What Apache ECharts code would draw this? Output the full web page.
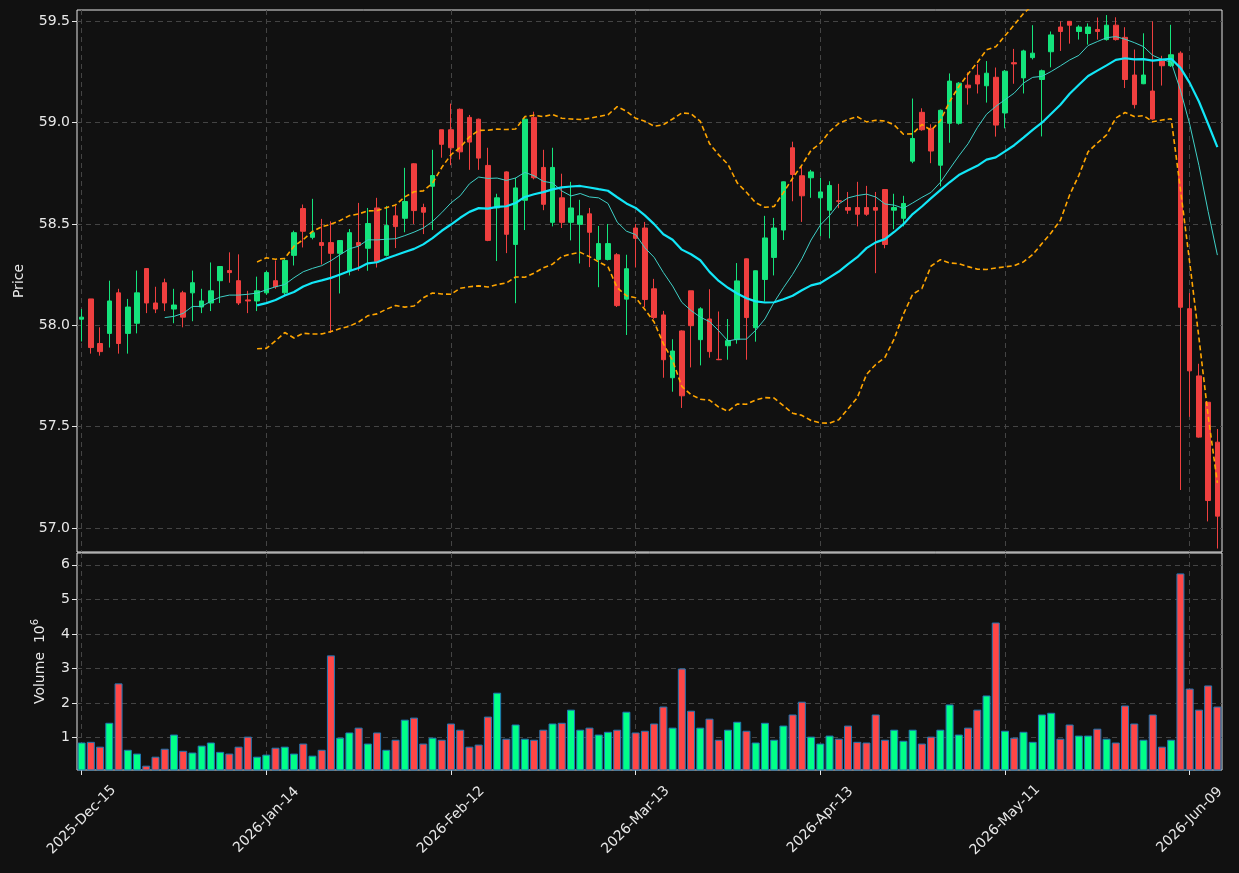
<!DOCTYPE html>
<html>
<head>
<meta charset="utf-8">
<title>Price / Volume</title>
<script src="https://cdn.jsdelivr.net/npm/echarts@6/dist/echarts.min.js"></script>
<style>
  html, body { margin: 0; padding: 0; background: #111111; }
  #chart { width: 1239px; height: 873px; }
</style>
</head>
<body>
<div id="chart"></div>
<script>
// trading days shown on the x axis
const dates = [
  '2025-Dec-15', '2025-Dec-16', '2025-Dec-17', '2025-Dec-18', '2025-Dec-19',
  '2025-Dec-22', '2025-Dec-23', '2025-Dec-24', '2025-Dec-26',
  '2025-Dec-29', '2025-Dec-30', '2025-Dec-31',
  '2026-Jan-02', '2026-Jan-05', '2026-Jan-06', '2026-Jan-07', '2026-Jan-08', '2026-Jan-09',
  '2026-Jan-12', '2026-Jan-13', '2026-Jan-14', '2026-Jan-15', '2026-Jan-16',
  '2026-Jan-20', '2026-Jan-21', '2026-Jan-22', '2026-Jan-23',
  '2026-Jan-26', '2026-Jan-27', '2026-Jan-28', '2026-Jan-29', '2026-Jan-30',
  '2026-Feb-02', '2026-Feb-03', '2026-Feb-04', '2026-Feb-05', '2026-Feb-06',
  '2026-Feb-09', '2026-Feb-10', '2026-Feb-11', '2026-Feb-12', '2026-Feb-13',
  '2026-Feb-17', '2026-Feb-18', '2026-Feb-19', '2026-Feb-20',
  '2026-Feb-23', '2026-Feb-24', '2026-Feb-25', '2026-Feb-26', '2026-Feb-27',
  '2026-Mar-02', '2026-Mar-03', '2026-Mar-04', '2026-Mar-05', '2026-Mar-06',
  '2026-Mar-09', '2026-Mar-10', '2026-Mar-11', '2026-Mar-12', '2026-Mar-13',
  '2026-Mar-16', '2026-Mar-17', '2026-Mar-18', '2026-Mar-19', '2026-Mar-20',
  '2026-Mar-23', '2026-Mar-24', '2026-Mar-25', '2026-Mar-26', '2026-Mar-27',
  '2026-Mar-30', '2026-Mar-31', '2026-Apr-01', '2026-Apr-02',
  '2026-Apr-06', '2026-Apr-07', '2026-Apr-08', '2026-Apr-09', '2026-Apr-10',
  '2026-Apr-13', '2026-Apr-14', '2026-Apr-15', '2026-Apr-16', '2026-Apr-17',
  '2026-Apr-20', '2026-Apr-21', '2026-Apr-22', '2026-Apr-23', '2026-Apr-24',
  '2026-Apr-27', '2026-Apr-28', '2026-Apr-29', '2026-Apr-30', '2026-May-01',
  '2026-May-04', '2026-May-05', '2026-May-06', '2026-May-07', '2026-May-08',
  '2026-May-11', '2026-May-12', '2026-May-13', '2026-May-14', '2026-May-15',
  '2026-May-18', '2026-May-19', '2026-May-20', '2026-May-21', '2026-May-22',
  '2026-May-26', '2026-May-27', '2026-May-28', '2026-May-29',
  '2026-Jun-01', '2026-Jun-02', '2026-Jun-03', '2026-Jun-04', '2026-Jun-05',
  '2026-Jun-08', '2026-Jun-09', '2026-Jun-10', '2026-Jun-11', '2026-Jun-12'
];

const opens = [
  58.03, 58.13, 57.91, 57.96, 58.16, 57.96, 58.01, 58.28, 58.11, 58.21,
  58.08, 58.16, 58.16, 58.09, 58.11, 58.22, 58.27, 58.22, 58.125, 58.12,
  58.16, 58.22, 58.16, 58.345, 58.576, 58.434, 58.408, 58.408, 58.355, 58.269,
  58.408, 58.38, 58.579, 58.345, 58.54, 58.528, 58.797, 58.581, 58.686, 58.965,
  58.965, 59.066, 59.026, 59.017, 58.789, 58.579, 58.757, 58.399, 58.617, 59.026,
  58.779, 58.508, 58.629, 58.508, 58.498, 58.55, 58.325, 58.325, 58.348, 58.129,
  58.48, 58.48, 58.18, 58.051, 57.741, 57.972, 58.17, 57.929, 58.031, 57.832,
  57.899, 57.929, 58.328, 57.988, 58.226, 58.335, 58.47, 58.876, 58.738, 58.728,
  58.629, 58.568, 58.614, 58.581, 58.581, 58.581, 58.581, 58.67, 58.568, 58.528,
  58.81, 59.051, 58.972, 58.79, 58.997, 58.997, 59.185, 59.234, 59.182, 59.224,
  59.048, 59.296, 59.221, 59.321, 59.213, 59.35, 59.472, 59.50, 59.45, 59.44,
  59.46, 59.41, 59.481, 59.421, 59.235, 59.192, 59.156, 59.304, 59.281, 59.343,
  58.082, 57.75, 57.62, 57.423
];
const highs = [
  58.08, 58.13, 57.99, 58.22, 58.18, 58.13, 58.27, 58.28, 58.19, 58.23,
  58.18, 58.17, 58.27, 58.18, 58.31, 58.29, 58.36, 58.35, 58.17, 58.24,
  58.27, 58.32, 58.33, 58.467, 58.596, 58.624, 58.525, 58.513, 58.42, 58.475,
  58.604, 58.579, 58.629, 58.589, 58.589, 58.777, 58.80, 58.60, 58.866, 58.965,
  59.094, 59.07, 59.038, 59.02, 58.876, 58.649, 58.76, 58.728, 59.02, 59.054,
  58.866, 58.876, 58.748, 58.708, 58.619, 58.579, 58.49, 58.50, 58.356, 58.348,
  58.50, 58.51, 58.229, 58.071, 57.931, 57.975, 58.17, 58.089, 58.178, 58.068,
  58.031, 58.307, 58.33, 58.27, 58.54, 58.53, 58.71, 58.906, 58.787, 58.767,
  58.728, 58.711, 58.698, 58.658, 58.708, 58.688, 58.658, 58.67, 58.649, 58.639,
  59.119, 59.071, 58.992, 59.065, 59.243, 59.20, 59.248, 59.289, 59.304, 59.272,
  59.26, 59.364, 59.36, 59.481, 59.262, 59.45, 59.50, 59.50, 59.481, 59.49,
  59.519, 59.531, 59.52, 59.471, 59.361, 59.441, 59.50, 59.33, 59.483, 59.352,
  58.159, 57.81, 57.62, 57.488
];
const lows = [
  57.92, 57.86, 57.85, 57.89, 57.86, 57.86, 57.96, 58.06, 58.06, 58.07,
  58.01, 57.99, 58.02, 58.06, 58.07, 58.11, 58.21, 58.10, 58.06, 58.07,
  58.15, 58.18, 58.15, 58.295, 58.384, 58.424, 58.30, 57.962, 58.157, 58.246,
  58.269, 58.269, 58.285, 58.34, 58.381, 58.459, 58.50, 58.45, 58.47, 58.827,
  58.79, 58.818, 58.767, 58.767, 58.415, 58.317, 58.356, 58.109, 58.47, 58.72,
  58.568, 58.488, 58.48, 58.419, 58.305, 58.287, 58.188, 58.32, 58.09, 57.952,
  58.285, 58.089, 58.03, 57.741, 57.672, 57.592, 57.792, 57.802, 57.84, 57.828,
  57.83, 57.909, 57.83, 57.919, 58.117, 58.246, 58.421, 58.612, 58.51, 58.629,
  58.44, 58.429, 58.578, 58.55, 58.488, 58.54, 58.257, 58.38, 58.474, 58.488,
  58.80, 58.96, 58.80, 58.686, 58.901, 58.99, 59.089, 59.144, 59.099, 58.931,
  58.972, 59.192, 59.144, 59.312, 58.932, 59.273, 59.354, 59.39, 59.41, 59.385,
  59.41, 59.405, 59.405, 59.171, 59.07, 59.19, 59.015, 59.183, 59.275, 57.187,
  57.548, 57.445, 57.032, 56.898
];
const closes = [
  58.04, 57.89, 57.87, 58.12, 57.91, 58.09, 58.16, 58.11, 58.08, 58.11,
  58.10, 58.04, 58.21, 58.12, 58.17, 58.29, 58.26, 58.11, 58.12, 58.17,
  58.26, 58.19, 58.32, 58.457, 58.464, 58.457, 58.394, 58.355, 58.418, 58.457,
  58.394, 58.502, 58.315, 58.492, 58.487, 58.611, 58.566, 58.558, 58.739, 58.893,
  58.876, 58.856, 58.904, 58.825, 58.419, 58.629, 58.449, 58.678, 59.017, 58.728,
  58.597, 58.779, 58.508, 58.579, 58.54, 58.459, 58.403, 58.403, 58.097, 58.279,
  58.429, 58.127, 58.038, 57.83, 57.873, 57.652, 57.998, 58.081, 57.87, 57.83,
  57.924, 58.219, 58.038, 58.269, 58.431, 58.48, 58.708, 58.744, 58.639, 58.757,
  58.658, 58.69, 58.612, 58.568, 58.548, 58.548, 58.568, 58.399, 58.581, 58.601,
  58.922, 58.965, 58.86, 59.061, 59.205, 59.195, 59.172, 59.191, 59.244, 58.988,
  59.254, 59.29, 59.354, 59.343, 59.256, 59.433, 59.45, 59.481, 59.472, 59.472,
  59.45, 59.481, 59.41, 59.213, 59.089, 59.235, 59.018, 59.281, 59.335, 58.089,
  57.775, 57.448, 57.135, 57.058
];
// volume in millions of shares
const volumes = [
  0.86, 0.88, 0.74, 1.43, 2.57, 0.65, 0.54, 0.19, 0.45, 0.68,
  1.09, 0.62, 0.57, 0.77, 0.86, 0.59, 0.54, 0.74, 1.03, 0.45,
  0.51, 0.71, 0.74, 0.54, 0.83, 0.48, 0.65, 3.38, 1.00, 1.15,
  1.29, 0.83, 1.15, 0.65, 0.94, 1.52, 1.58, 0.83, 1.00, 0.94,
  1.41, 1.23, 0.74, 0.80, 1.61, 2.30, 0.97, 1.38, 0.97, 0.94,
  1.23, 1.41, 1.43, 1.81, 1.23, 1.29, 1.09, 1.17, 1.23, 1.75,
  1.15, 1.20, 1.41, 1.90, 1.29, 3.00, 1.78, 1.29, 1.55, 0.94,
  1.23, 1.46, 1.20, 0.86, 1.43, 0.94, 1.35, 1.67, 2.04, 1.03,
  0.83, 1.06, 0.97, 1.35, 0.88, 0.86, 1.67, 0.94, 1.23, 0.91,
  1.23, 0.83, 1.03, 1.23, 1.96, 1.09, 1.29, 1.81, 2.22, 4.33,
  1.20, 1.00, 1.17, 0.88, 1.67, 1.72, 0.97, 1.38, 1.06, 1.06,
  1.26, 0.97, 0.86, 1.93, 1.41, 0.94, 1.67, 0.74, 0.94, 5.75,
  2.42, 1.81, 2.51, 1.90
];

const priceTicks = [57.0, 57.5, 58.0, 58.5, 59.0, 59.5];
const volumeTicks = [1, 2, 3, 4, 5, 6];

const UP = '#14e47c', DOWN = '#ef3f3f';
const VOL_UP = '#00ff88', VOL_DOWN = '#ff4646';

// rolling indicators from the closes (10/20 day mean, 20 day +-2 sd band)
function rollingMean(vals, n) {
  return vals.map((v, i) => {
    if (i < n - 1) return '-';
    let s = 0;
    for (let j = i - n + 1; j <= i; j++) s += vals[j];
    return +(s / n).toFixed(4);
  });
}
function band(vals, n, k, sign) {
  return vals.map((v, i) => {
    if (i < n - 1) return '-';
    let s = 0;
    for (let j = i - n + 1; j <= i; j++) s += vals[j];
    const m = s / n;
    let q = 0;
    for (let j = i - n + 1; j <= i; j++) q += (vals[j] - m) * (vals[j] - m);
    return +(m + sign * k * Math.sqrt(q / n)).toFixed(4);
  });
}

const ma10 = rollingMean(closes, 10);
const ma20 = rollingMean(closes, 20);
const bbUpper = band(closes, 20, 2, 1);
const bbLower = band(closes, 20, 2, -1);

const candles = dates.map((d, i) => [opens[i], closes[i], lows[i], highs[i]]);
const volBars = volumes.map((v, i) => ({
  value: v,
  itemStyle: { color: closes[i] >= opens[i] ? VOL_UP : VOL_DOWN }
}));

const txt = '#e8e8e8';
const gridLine = { show: true, lineStyle: { color: '#444444', type: [5, 4], width: 1 } };

const chart = echarts.init(document.getElementById('chart'));
chart.setOption({
  backgroundColor: '#111111',
  animation: false,
  textStyle: { fontFamily: 'DejaVu Sans' },
  grid: [
    { left: 77, right: 17, top: 10, height: 542, show: true, borderColor: '#e6e6e6', borderWidth: 1 },
    { left: 77, right: 17, top: 553, height: 217, show: true, borderColor: '#e6e6e6', borderWidth: 1 }
  ],
  xAxis: [
    {
      type: 'category', gridIndex: 0, data: dates, boundaryGap: true,
      axisLine: { show: false }, axisTick: { show: false }, axisLabel: { show: false },
      splitLine: Object.assign({ interval: 19, alignWithLabel: true }, gridLine)
    },
    {
      type: 'category', gridIndex: 1, data: dates, boundaryGap: true,
      axisLine: { show: false },
      axisTick: { show: true, interval: 19, alignWithLabel: true, length: 5, lineStyle: { color: '#e6e6e6' } },
      axisLabel: { interval: 19, rotate: 45, align: 'center', verticalAlign: 'middle',
        color: txt, fontSize: 14, margin: 50 },
      splitLine: Object.assign({ interval: 19, alignWithLabel: true }, gridLine)
    }
  ],
  yAxis: [
    {
      type: 'value', gridIndex: 0, min: 56.881, max: 59.556, scale: true,
      name: 'Price', nameLocation: 'middle', nameGap: 51,
      nameTextStyle: { color: txt, fontSize: 14 },
      axisLine: { show: false },
      axisTick: { show: true, customValues: priceTicks, length: 5, lineStyle: { color: '#e6e6e6' } },
      axisLabel: { customValues: priceTicks, color: txt, fontSize: 14, margin: 7,
        formatter: v => v.toFixed(1) },
      splitLine: gridLine
    },
    {
      type: 'value', gridIndex: 1, min: 0.065, max: 6.34,
      name: 'Volume  10{sup|6}', nameLocation: 'middle', nameGap: 27,
      nameTextStyle: { color: txt, fontSize: 14, lineHeight: 20,
        rich: { sup: { color: txt, fontSize: 10, lineHeight: 10, verticalAlign: 'top' } } },
      axisLine: { show: false },
      axisTick: { show: true, customValues: volumeTicks, length: 5, lineStyle: { color: '#e6e6e6' } },
      axisLabel: { customValues: volumeTicks, color: txt, fontSize: 14, margin: 7 },
      splitLine: gridLine
    }
  ],
  series: [
    {
      type: 'candlestick', name: 'OHLC', xAxisIndex: 0, yAxisIndex: 0, data: candles,
      barWidth: 5,
      itemStyle: { color: UP, color0: DOWN, borderColor: UP, borderColor0: DOWN, borderWidth: 1 }
    },
    {
      type: 'line', name: 'MA10', xAxisIndex: 0, yAxisIndex: 0, data: ma10,
      showSymbol: false, silent: true,
      lineStyle: { color: '#3fcfc6', width: 1 }
    },
    {
      type: 'line', name: 'MA20', xAxisIndex: 0, yAxisIndex: 0, data: ma20,
      showSymbol: false, silent: true,
      lineStyle: { color: '#12e6f7', width: 2.2 }
    },
    {
      type: 'line', name: 'BB upper', xAxisIndex: 0, yAxisIndex: 0, data: bbUpper,
      showSymbol: false, silent: true, clip: true,
      lineStyle: { color: '#ffa500', width: 1.6, type: [5, 3] }
    },
    {
      type: 'line', name: 'BB lower', xAxisIndex: 0, yAxisIndex: 0, data: bbLower,
      showSymbol: false, silent: true, clip: true,
      lineStyle: { color: '#ffa500', width: 1.6, type: [5, 3] }
    },
    {
      type: 'bar', name: 'Volume', xAxisIndex: 1, yAxisIndex: 1, data: volBars,
      barWidth: 8,
      itemStyle: { borderColor: '#1f77b4', borderWidth: 1 }
    }
  ]
});
</script>
</body>
</html>
